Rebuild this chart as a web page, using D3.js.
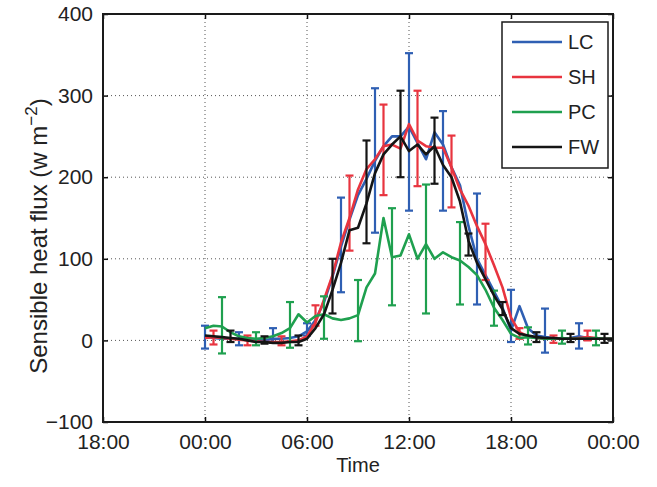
<!DOCTYPE html>
<html>
<head>
<meta charset="utf-8">
<script src="https://cdn.jsdelivr.net/npm/d3@7"></script>
<style>
  html, body { margin: 0; padding: 0; background: #fff; }
  svg { display: block; }
  text { font-family: "Liberation Sans", Arial, Helvetica, sans-serif; fill: #222; }
</style>
</head>
<body>
<svg id="chart" width="657" height="487"></svg>
<script>
// Half-hourly sample times (hours after midnight)
const hours = [0, 0.5, 1, 1.5, 2, 2.5, 3, 3.5, 4, 4.5, 5, 5.5, 6, 6.5, 7, 7.5, 8, 8.5, 9, 9.5,
  10, 10.5, 11, 11.5, 12, 12.5, 13, 13.5, 14, 14.5, 15, 15.5, 16, 16.5, 17, 17.5, 18, 18.5, 19, 19.5,
  20, 20.5, 21, 21.5, 22, 22.5, 23, 23.5, 24];

// Mean sensible heat flux (W m-2) per site
const lcFlux = [5, 3, 2, 2, 2, 1, 0, 0, 2, 2, 3, 5, 11, 25, 47, 78, 115, 148, 178, 198,
  220, 238, 250, 250, 262, 242, 222, 255, 240, 212, 190, 140, 100, 80, 60, 40, 12, 42, 15, 6,
  4, 3, 2, 3, 5, 3, 2, 2, 2];
const shFlux = [3, 4, 3, 2, 1, 0, -1, -2, -2, -2, -1, 0, 5, 22, 50, 80, 120, 150, 185, 210,
  222, 238, 240, 235, 265, 245, 238, 236, 236, 212, 185, 165, 140, 118, 92, 65, 28, 10, 5, 3,
  2, 2, 2, 2, 3, 4, 3, 2, 2];
const pcFlux = [15, 18, 17, 10, 5, 3, 2, 3, 5, 9, 15, 32, 22, 30, 32, 27, 25, 27, 31, 65,
  82, 150, 102, 104, 130, 100, 118, 100, 108, 102, 98, 90, 80, 62, 40, 25, 8, 3, 4, 3,
  2, 2, 3, 2, 2, 2, 3, 2, 2];
const fwFlux = [6, 5, 4, 3, 2, 0, -2, -2, -3, -3, -2, -2, 2, 15, 32, 62, 95, 135, 138, 168,
  205, 228, 240, 250, 232, 240, 228, 238, 215, 200, 170, 122, 95, 75, 55, 38, 15, 8, 6, 4,
  3, 3, 2, 2, 2, 2, 2, 2, 2];

// Error-bar times and ranges (lower / upper bound, W m-2)
const lcBarHours = [0, 2, 4, 6, 8, 10, 12, 14, 16, 18, 20, 22];
const lcBarLo = [-10, -6, -3, 6, 59, 132, 159, 159, 44, -2, -15, -10];
const lcBarHi = [18, 10, 15, 21, 175, 309, 352, 281, 180, 62, 39, 21];

const shBarHours = [0.5, 2.5, 4.5, 6.5, 8.5, 10.5, 12.5, 14.5, 16.5, 18.5, 20.5, 22.5];
const shBarLo = [-5, -6, -6, 18, 110, 178, 189, 163, 74, 2, -3, 0];
const shBarHi = [12, 6, 5, 43, 202, 289, 306, 251, 143, 15, 6, 12];

const pcBarHours = [1, 3, 5, 7, 9, 11, 13, 15, 17, 19, 21, 23];
const pcBarLo = [-16, -6, -9, 2, -1, 43, 33, 44, 18, -5, -4, -6];
const pcBarHi = [53, 10, 47, 54, 74, 162, 191, 145, 61, 16, 12, 12];

const fwBarHours = [1.5, 3.5, 5.5, 7.5, 9.5, 11.5, 13.5, 15.5, 17.5, 19.5, 21.5, 23.5];
const fwBarLo = [-2, -4, -6, 33, 119, 200, 192, 104, 31, -2, -2, -3];
const fwBarHi = [12, 5, 6, 100, 245, 306, 273, 131, 47, 10, 8, 8];

// Axis ticks
const xTickHours = [-6, 0, 6, 12, 18, 24];
const xTickLabels = ["18:00", "00:00", "06:00", "12:00", "18:00", "00:00"];
const yTicks = [-100, 0, 100, 200, 300, 400];

const seriesNames = ["LC", "SH", "PC", "FW"];
const seriesColors = ["#2f5fb3", "#e8343f", "#1fa04f", "#151515"];

const series = [
  { name: seriesNames[0], color: seriesColors[0], y: lcFlux, bh: lcBarHours, lo: lcBarLo, hi: lcBarHi },
  { name: seriesNames[1], color: seriesColors[1], y: shFlux, bh: shBarHours, lo: shBarLo, hi: shBarHi },
  { name: seriesNames[2], color: seriesColors[2], y: pcFlux, bh: pcBarHours, lo: pcBarLo, hi: pcBarHi },
  { name: seriesNames[3], color: seriesColors[3], y: fwFlux, bh: fwBarHours, lo: fwBarLo, hi: fwBarHi }
];

const svg = d3.select("#chart");
const plot = { left: 103, right: 613, top: 14, bottom: 422 };

const x = d3.scaleLinear().domain([-6, 24]).range([plot.left, plot.right]);
const y = d3.scaleLinear().domain([-100, 400]).range([plot.bottom, plot.top]);

// Dotted grid
const grid = svg.append("g").attr("stroke", "#555").attr("stroke-width", 1)
  .attr("stroke-dasharray", "1,3");
grid.selectAll("line.gx").data(xTickHours.slice(1, -1)).join("line")
  .attr("x1", d => x(d)).attr("x2", d => x(d))
  .attr("y1", plot.top).attr("y2", plot.bottom);
grid.selectAll("line.gy").data(yTicks.slice(1, -1)).join("line")
  .attr("x1", plot.left).attr("x2", plot.right)
  .attr("y1", d => y(d)).attr("y2", d => y(d));

// Axes: ticks pointing inward on all four sides
const tickLen = 5;
const axisBottom = d3.axisBottom(x).tickValues(xTickHours)
  .tickFormat((d, i) => xTickLabels[i]).tickSizeInner(-tickLen).tickSizeOuter(0).tickPadding(12);
const axisTop = d3.axisTop(x).tickValues(xTickHours).tickFormat("").tickSizeInner(-tickLen).tickSizeOuter(0);
const axisLeft = d3.axisLeft(y).tickValues(yTicks)
  .tickFormat(d => d < 0 ? "\u2212" + Math.abs(d) : d).tickSizeInner(-tickLen).tickSizeOuter(0).tickPadding(10);
const axisRight = d3.axisRight(y).tickValues(yTicks).tickFormat("").tickSizeInner(-tickLen).tickSizeOuter(0);

function styleAxis(g) {
  g.select(".domain").remove();
  g.selectAll(".tick line").attr("stroke", "#111").attr("stroke-width", 1.5);
  g.selectAll(".tick text").style("font-size", "21px").attr("fill", "#2a2a2a");
}
svg.append("g").attr("transform", `translate(0,${plot.bottom})`).call(axisBottom).call(styleAxis);
svg.append("g").attr("transform", `translate(0,${plot.top})`).call(axisTop).call(styleAxis);
svg.append("g").attr("transform", `translate(${plot.left},0)`).call(axisLeft).call(styleAxis);
svg.append("g").attr("transform", `translate(${plot.right},0)`).call(axisRight).call(styleAxis);

// Data: lines with error bars
const line = d3.line().x((d, i) => x(hours[i])).y(d => y(d));
const capW = 4;
series.forEach(s => {
  const g = svg.append("g").attr("stroke", s.color).attr("fill", "none");
  const bars = g.selectAll("g.bar").data(s.bh.map((h, i) => ({ h, lo: s.lo[i], hi: s.hi[i] })))
    .join("g").attr("stroke-width", 2.2);
  bars.append("line")
    .attr("x1", d => x(d.h)).attr("x2", d => x(d.h))
    .attr("y1", d => y(d.lo)).attr("y2", d => y(d.hi));
  bars.append("line")
    .attr("x1", d => x(d.h) - capW).attr("x2", d => x(d.h) + capW)
    .attr("y1", d => y(d.lo)).attr("y2", d => y(d.lo));
  bars.append("line")
    .attr("x1", d => x(d.h) - capW).attr("x2", d => x(d.h) + capW)
    .attr("y1", d => y(d.hi)).attr("y2", d => y(d.hi));
  g.append("path").datum(s.y).attr("d", line)
    .attr("stroke-width", 2.6).attr("stroke-linejoin", "round");
});

// Plot frame
svg.append("rect")
  .attr("x", plot.left).attr("y", plot.top)
  .attr("width", plot.right - plot.left).attr("height", plot.bottom - plot.top)
  .attr("fill", "none").attr("stroke", "#1a1a1a").attr("stroke-width", 2);

// Legend
const lg = svg.append("g");
lg.append("rect").attr("x", 502).attr("y", 22).attr("width", 106).attr("height", 146)
  .attr("fill", "#fff").attr("stroke", "#1a1a1a").attr("stroke-width", 1.5);
series.forEach((s, i) => {
  const ly = 42 + i * 35;
  lg.append("line").attr("x1", 512).attr("x2", 562).attr("y1", ly).attr("y2", ly)
    .attr("stroke", s.color).attr("stroke-width", 2.4);
  lg.append("text").attr("x", 568).attr("y", ly + 7).style("font-size", "20px").text(s.name);
});

// Axis titles
svg.append("text").attr("x", x(9)).attr("y", 472).attr("text-anchor", "middle")
  .style("font-size", "20px").text("Time");

const yl = svg.append("text")
  .attr("transform", "translate(47,236) rotate(-90)")
  .attr("text-anchor", "middle").style("font-size", "24px");
yl.append("tspan").text("Sensible heat flux (w m");
yl.append("tspan").attr("dy", -10).style("font-size", "17px").text("\u22122");
yl.append("tspan").attr("dy", 10).text(")");
</script>
</body>
</html>
